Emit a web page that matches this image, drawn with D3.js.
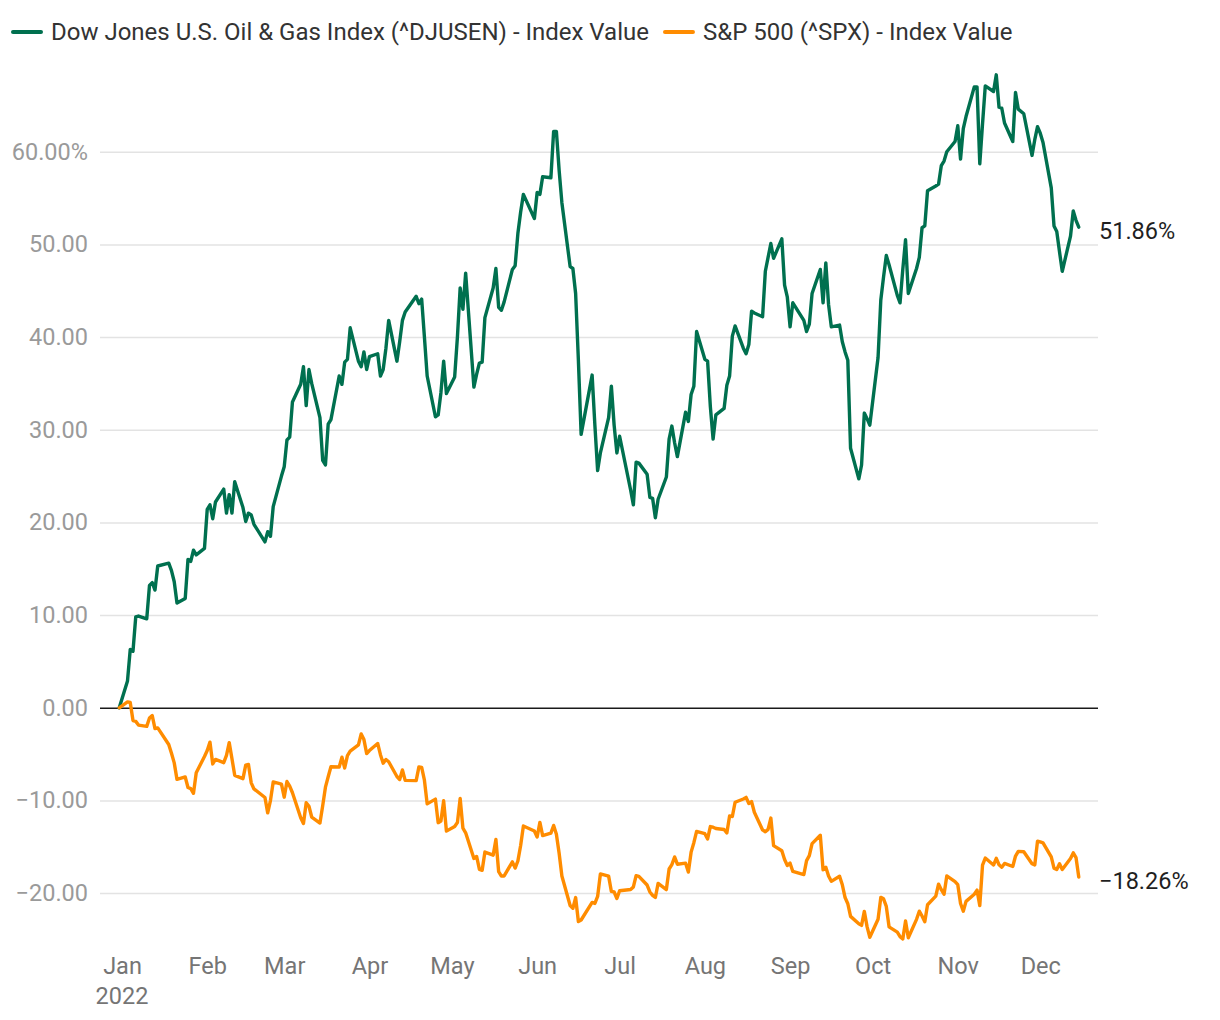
<!DOCTYPE html>
<html>
<head>
<meta charset="utf-8">
<script src="https://cdn.jsdelivr.net/npm/d3@7"></script>
<style>
  html, body { margin: 0; padding: 0; background: #fff; }
  svg { display: block; font-family: Roboto, "Noto Sans", sans-serif; }
</style>
</head>
<body>
<svg id="chart" width="1220" height="1020"></svg>
<script>
// ---- data ----
const seriesNames = ["Dow Jones U.S. Oil & Gas Index (^DJUSEN) - Index Value", "S&P 500 (^SPX) - Index Value"];
const dates = [
"2021-12-31",
"2022-01-03","2022-01-04","2022-01-05","2022-01-06","2022-01-07","2022-01-10","2022-01-11","2022-01-12","2022-01-13","2022-01-14",
"2022-01-18","2022-01-19","2022-01-20","2022-01-21","2022-01-24","2022-01-25","2022-01-26","2022-01-27","2022-01-28","2022-01-31",
"2022-02-01","2022-02-02","2022-02-03","2022-02-04","2022-02-07","2022-02-08","2022-02-09","2022-02-10","2022-02-11","2022-02-14",
"2022-02-15","2022-02-16","2022-02-17","2022-02-18","2022-02-22","2022-02-23","2022-02-24","2022-02-25","2022-02-28",
"2022-03-01","2022-03-02","2022-03-03","2022-03-04","2022-03-07","2022-03-08","2022-03-09","2022-03-10","2022-03-11","2022-03-14",
"2022-03-15","2022-03-16","2022-03-17","2022-03-18","2022-03-21","2022-03-22","2022-03-23","2022-03-24","2022-03-25","2022-03-28",
"2022-03-29","2022-03-30","2022-03-31",
"2022-04-01","2022-04-04","2022-04-05","2022-04-06","2022-04-07","2022-04-08","2022-04-11","2022-04-12","2022-04-13","2022-04-14",
"2022-04-18","2022-04-19","2022-04-20","2022-04-21","2022-04-22","2022-04-25","2022-04-26","2022-04-27","2022-04-28","2022-04-29",
"2022-05-02","2022-05-03","2022-05-04","2022-05-05","2022-05-06","2022-05-09","2022-05-10","2022-05-11","2022-05-12","2022-05-13",
"2022-05-16","2022-05-17","2022-05-18","2022-05-19","2022-05-20","2022-05-23","2022-05-24","2022-05-25","2022-05-26","2022-05-27",
"2022-05-31",
"2022-06-01","2022-06-02","2022-06-03","2022-06-06","2022-06-07","2022-06-08","2022-06-09","2022-06-10","2022-06-13","2022-06-14",
"2022-06-15","2022-06-16","2022-06-17","2022-06-21","2022-06-22","2022-06-23","2022-06-24","2022-06-27","2022-06-28","2022-06-29",
"2022-06-30",
"2022-07-01","2022-07-05","2022-07-06","2022-07-07","2022-07-08","2022-07-11","2022-07-12","2022-07-13","2022-07-14","2022-07-15",
"2022-07-18","2022-07-19","2022-07-20","2022-07-21","2022-07-22","2022-07-25","2022-07-26","2022-07-27","2022-07-28","2022-07-29",
"2022-08-01","2022-08-02","2022-08-03","2022-08-04","2022-08-05","2022-08-08","2022-08-09","2022-08-10","2022-08-11","2022-08-12",
"2022-08-15","2022-08-16","2022-08-17","2022-08-18","2022-08-19","2022-08-22","2022-08-23","2022-08-24","2022-08-25","2022-08-26",
"2022-08-29","2022-08-30","2022-08-31",
"2022-09-01","2022-09-02","2022-09-06","2022-09-07","2022-09-08","2022-09-09","2022-09-12","2022-09-13","2022-09-14","2022-09-15",
"2022-09-16","2022-09-19","2022-09-20","2022-09-21","2022-09-22","2022-09-23","2022-09-26","2022-09-27","2022-09-28","2022-09-29",
"2022-09-30",
"2022-10-03","2022-10-04","2022-10-05","2022-10-06","2022-10-07","2022-10-10","2022-10-11","2022-10-12","2022-10-13","2022-10-14",
"2022-10-17","2022-10-18","2022-10-19","2022-10-20","2022-10-21","2022-10-24","2022-10-25","2022-10-26","2022-10-27","2022-10-28",
"2022-10-31",
"2022-11-01","2022-11-02","2022-11-03","2022-11-04","2022-11-07","2022-11-08","2022-11-09","2022-11-10","2022-11-11","2022-11-14",
"2022-11-15","2022-11-16","2022-11-17","2022-11-18","2022-11-21","2022-11-22","2022-11-23","2022-11-25","2022-11-28","2022-11-29",
"2022-11-30",
"2022-12-01","2022-12-02","2022-12-05","2022-12-06","2022-12-07","2022-12-08","2022-12-09","2022-12-12","2022-12-13","2022-12-14",
"2022-12-15"
];
const oilValues = [
0,
2.9,6.3,6.1,9.8,9.9,9.6,13.2,13.5,12.7,15.3,
15.6,14.8,13.6,11.3,11.8,16.0,15.8,17.0,16.5,17.2,
21.4,21.9,20.4,22.2,23.6,21.0,23.0,21.0,24.4,21.6,
20.1,21.0,20.8,19.8,17.9,19.0,18.5,21.7,25.0,
26.0,28.9,29.2,33.0,34.9,36.8,32.6,36.5,35.0,31.3,
26.7,26.2,30.6,31.1,35.8,34.9,37.3,37.6,41.0,37.4,
36.8,38.4,36.5,
37.9,38.2,35.8,36.5,38.8,41.8,37.4,39.5,41.8,42.7,
44.4,43.6,44.1,40.0,35.8,31.4,31.6,34.0,37.4,33.9,
35.7,40.0,45.3,43.0,46.9,34.6,36.0,37.2,37.3,42.1,
45.3,47.4,43.2,42.9,43.8,47.3,47.7,51.2,53.5,55.4,
52.8,
55.6,55.4,57.3,57.2,62.2,62.2,58.0,54.5,47.6,47.4,
44.7,37.5,29.5,35.9,30.5,25.6,27.5,31.3,34.7,30.5,
27.5,
29.3,23.5,21.9,26.5,26.4,25.2,22.7,22.6,20.5,22.5,
24.9,29.0,30.4,28.6,27.1,31.9,30.9,33.8,34.7,40.6,
37.6,37.4,32.5,29.0,31.6,32.3,34.8,35.8,40.1,41.2,
38.8,38.2,39.2,42.8,42.6,42.2,47.1,48.6,50.1,48.5,
50.6,45.6,44.3,
41.1,43.7,41.8,40.6,41.4,44.7,47.3,43.7,48.0,43.5,
41.1,41.3,39.5,38.4,37.5,28.0,24.7,26.2,31.8,31.2,
30.5,
37.8,44.0,46.5,48.8,47.8,44.5,43.7,47.3,50.5,44.7,
47.4,48.6,51.8,52.0,55.8,56.3,56.5,58.5,59.0,60.0,
61.1,
62.8,59.2,62.5,63.8,67.0,67.0,58.7,63.0,67.1,66.5,
68.3,64.8,64.7,63.1,61.1,66.4,64.6,64.1,59.6,61.3,
62.7,
62.0,61.0,56.1,52.0,51.4,49.2,47.1,50.9,53.6,52.6,
51.86
];
const spxValues = [
0,
0.64,0.57,-1.38,-1.47,-1.87,-2.01,-1.11,-0.84,-2.25,-2.17,
-3.97,-4.90,-5.95,-7.73,-7.47,-8.60,-8.73,-9.23,-7.01,-5.26,
-4.61,-3.71,-6.06,-5.57,-5.92,-5.13,-3.76,-5.50,-7.29,-7.65,
-6.19,-6.11,-8.10,-8.76,-9.68,-11.34,-10.02,-8.00,-8.23,
-9.65,-7.96,-8.45,-9.17,-11.86,-12.49,-10.24,-10.63,-11.79,-12.44,
-10.57,-8.57,-7.44,-6.36,-6.40,-5.34,-6.50,-5.16,-4.68,-4.00,
-2.82,-3.43,-4.95,
-4.62,-3.85,-5.06,-5.98,-5.58,-5.83,-7.42,-7.74,-6.71,-7.84,
-7.86,-6.38,-6.44,-7.82,-10.37,-9.86,-12.40,-12.22,-10.04,-13.31,
-12.81,-12.39,-9.78,-12.99,-13.49,-16.26,-16.05,-17.44,-17.54,-15.57,
-15.91,-14.21,-17.68,-18.16,-18.15,-16.63,-17.30,-16.52,-14.86,-12.76,
-13.30,
-13.95,-12.37,-13.80,-13.53,-12.70,-13.65,-15.70,-18.16,-21.33,-21.63,
-20.48,-23.07,-22.90,-21.01,-21.11,-20.36,-17.93,-18.17,-19.82,-19.88,
-20.58,
-19.74,-19.61,-19.33,-18.12,-18.19,-19.13,-19.88,-20.24,-20.47,-18.95,
-19.62,-17.40,-16.92,-16.10,-16.88,-16.77,-17.73,-15.58,-14.56,-13.34,
-13.59,-14.16,-12.82,-12.89,-13.03,-13.14,-13.51,-11.67,-11.73,-10.20,
-9.84,-9.67,-10.33,-10.12,-11.28,-13.18,-13.38,-13.12,-11.90,-14.87,
-15.43,-16.37,-17.02,
-16.77,-17.66,-18.00,-16.50,-15.95,-14.66,-13.76,-17.49,-17.21,-18.15,
-18.73,-18.18,-19.10,-20.48,-21.15,-22.51,-23.31,-23.48,-21.97,-23.62,
-24.77,
-22.82,-20.46,-20.62,-21.44,-23.64,-24.21,-24.70,-24.95,-23.00,-24.82,
-22.83,-21.95,-22.47,-23.09,-21.26,-20.33,-19.03,-19.63,-20.12,-18.15,
-18.76,
-19.09,-21.12,-21.95,-20.89,-20.13,-19.68,-21.35,-16.99,-16.22,-16.97,
-16.25,-16.94,-17.20,-16.80,-17.13,-16.00,-15.50,-15.53,-16.83,-16.96,
-14.39,
-14.47,-14.57,-16.10,-17.31,-17.46,-16.84,-17.45,-16.27,-15.66,-16.17,
-18.26
];
const yTicks = [-20, -10, 0, 10, 20, 30, 40, 50, 60];
const xDomain = ["2021-12-24", "2022-12-22"];
const colors = ["#00704f", "#ff8c00"];

// ---- chart ----
const svg = d3.select("#chart");
const parse = d3.utcParse("%Y-%m-%d");
const dt = dates.map(parse);

const mLeft = 100, mRight = 1098, mTop = 60, mBottom = 945;
const axisFont = "23.5px";
const x = d3.scaleUtc().domain(xDomain.map(parse)).range([mLeft, mRight]);
const y = d3.scaleLinear().domain([-25.6, 69.9]).range([mBottom, mTop]);

// y grid + labels
const yAxis = svg.append("g")
  .attr("transform", `translate(${mLeft},0)`)
  .call(d3.axisLeft(y)
    .tickValues(yTicks)
    .tickSize(-(mRight - mLeft))
    .tickPadding(12)
    .tickFormat(d => d3.format(".2f")(d) + (d === 60 ? "%" : "")));
yAxis.select(".domain").remove();
yAxis.selectAll(".tick line")
  .attr("stroke", d => d === 0 ? "#1a1a1a" : "#e3e3e3")
  .attr("stroke-width", d => d === 0 ? 1.6 : 1.5);
yAxis.selectAll(".tick text")
  .attr("fill", "#9a9a9a")
  .style("font-size", axisFont)
  .style("font-family", "Roboto, sans-serif");
yAxis.selectAll(".tick").filter(d => d === 0).raise();

// x axis
const xAxis = svg.append("g")
  .attr("transform", `translate(0,${mBottom})`)
  .call(d3.axisBottom(x)
    .ticks(d3.utcMonth.every(1))
    .tickSize(0)
    .tickPadding(12)
    .tickFormat(d3.utcFormat("%b")));
xAxis.select(".domain").remove();
xAxis.selectAll(".tick text")
  .attr("fill", "#757575")
  .style("font-size", axisFont)
  .style("font-family", "Roboto, sans-serif");
svg.append("text")
  .attr("x", x(parse("2022-01-01")))
  .attr("y", 1004)
  .attr("text-anchor", "middle")
  .attr("fill", "#757575")
  .style("font-size", axisFont)
  .text("2022");

// lines
const series = [oilValues, spxValues];
const line = d3.line().x((d, i) => x(dt[i])).y(d => y(d));
series.forEach((vals, k) => {
  svg.append("path")
    .datum(vals)
    .attr("fill", "none")
    .attr("stroke", colors[k])
    .attr("stroke-width", 3.4)
    .attr("stroke-linejoin", "round")
    .attr("stroke-linecap", "round")
    .attr("d", line);
});

// end labels
const fmtEnd = d3.format(".2f");
series.forEach((vals, k) => {
  const v = vals[vals.length - 1];
  svg.append("text")
    .attr("x", mRight + 1)
    .attr("y", y(v) + 6)
    .attr("dominant-baseline", "middle")
    .attr("fill", "#1f1f1f")
    .style("font-size", axisFont)
    .text(fmtEnd(v) + "%");
});

// legend
const legend = svg.append("g");
let lx = 13;
seriesNames.forEach((name, k) => {
  legend.append("line")
    .attr("x1", lx).attr("x2", lx + 28)
    .attr("y1", 32).attr("y2", 32)
    .attr("stroke", colors[k])
    .attr("stroke-width", 4)
    .attr("stroke-linecap", "round");
  const t = legend.append("text")
    .attr("x", lx + 38)
    .attr("y", 32)
    .attr("dominant-baseline", "central")
    .attr("fill", "#333")
    .style("font-size", "24px")
    .text(name);
  lx = lx + 38 + t.node().getComputedTextLength() + 16;
});
</script>
</body>
</html>
